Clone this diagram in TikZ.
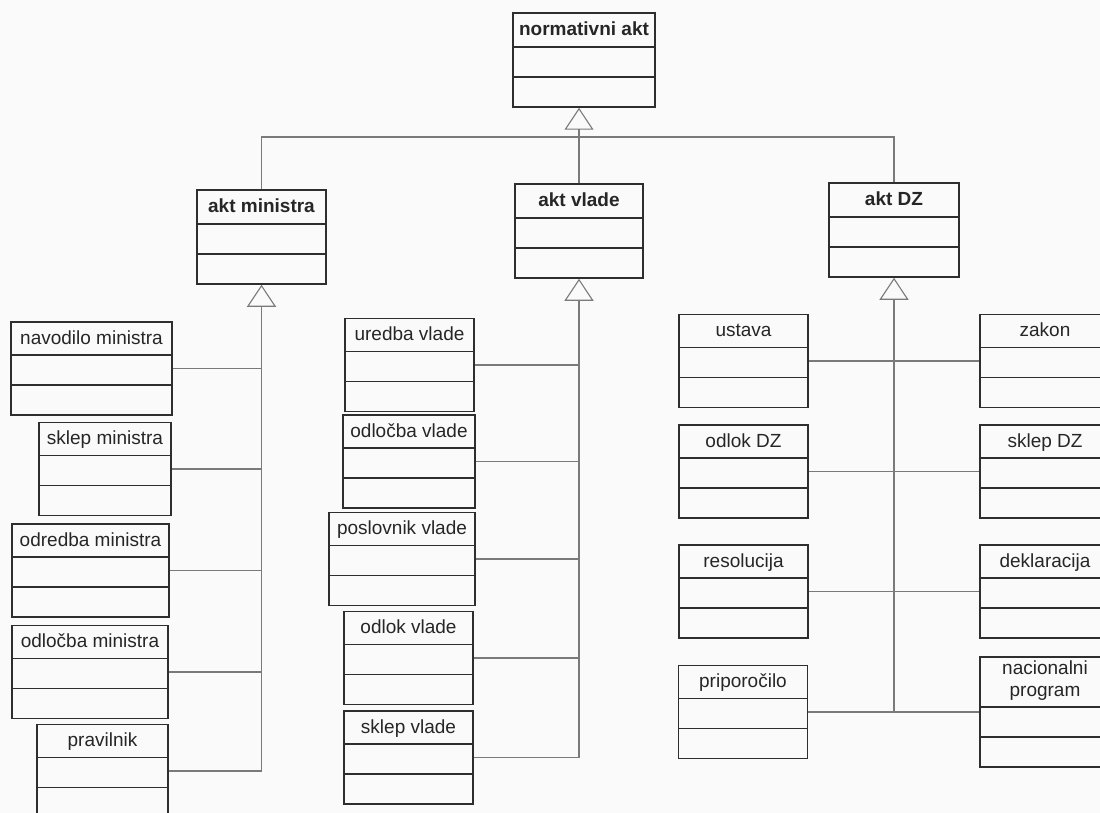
\documentclass[tikz,border=0pt]{standalone}
\usepackage{fontspec}
\setmainfont{Liberation Sans}
\usetikzlibrary{arrows.meta}

\definecolor{paper}{HTML}{FAFAFA}
\definecolor{boxc}{HTML}{2E2E2E}
\definecolor{linkc}{HTML}{7A7A7A}
\newcommand{\klassfont}{\fontsize{19}{22}\selectfont}

\tikzset{
  umlclass/.style={draw=boxc, line width=1.5pt, fill=paper, inner sep=0pt,
    minimum width=129pt, minimum height=93pt,
    path picture={
      \draw[boxc, line width=1.5pt] ([yshift=30pt]path picture bounding box.south west) -- ([yshift=30pt]path picture bounding box.south east);
      \draw[boxc, line width=1.5pt] ([yshift=60pt]path picture bounding box.south west) -- ([yshift=60pt]path picture bounding box.south east);
    }},
  ctitle/.style={anchor=base, yshift=-23pt, text=black!85, align=center, font=\klassfont},
  atitle/.style={ctitle, font=\klassfont\bfseries},
  link/.style={draw=linkc, line width=1.1pt},
  inherit/.style={link, -{Triangle[open, length=22pt, width=29pt]}}
}

\begin{document}
\begin{tikzpicture}[x=1pt, y=-1pt]
  \fill[paper] (0,0) rectangle (1100,813);
  \useasboundingbox (0,0) rectangle (1100,813);

  % abstract classes
  \node[umlclass, minimum width=142pt, minimum height=94pt, label={[atitle]north:normativni akt}] (normativni) at (584,60) {};
  \node[umlclass, minimum height=94pt, label={[atitle]north:akt ministra}] (ministra) at (261.5,237) {};
  \node[umlclass, minimum width=128pt, minimum height=94pt, label={[atitle]north:akt vlade}] (vlade) at (579,231) {};
  \node[umlclass, minimum width=130pt, minimum height=94pt, label={[atitle]north:akt DZ}] (dz) at (894,230) {};

  % akti ministra
  \node[umlclass, minimum width=161pt, label={[ctitle]north:navodilo ministra}] (navodilo) at (91.5,368.5) {};
  \node[umlclass, minimum width=132pt, label={[ctitle]north:sklep ministra}] (sklepmin) at (105,469) {};
  \node[umlclass, minimum width=157pt, label={[ctitle]north:odredba ministra}] (odredba) at (90.5,570.5) {};
  \node[umlclass, minimum width=156pt, label={[ctitle]north:odločba ministra}] (odlocbamin) at (90,672) {};
  \node[umlclass, minimum width=131pt, label={[ctitle]north:pravilnik}] (pravilnik) at (102.5,771) {};

  % akti vlade
  \node[umlclass, label={[ctitle]north:uredba vlade}] (uredba) at (409.5,365) {};
  \node[umlclass, minimum width=132pt, label={[ctitle]north:odločba vlade}] (odlocbavl) at (409,461.5) {};
  \node[umlclass, minimum width=146pt, label={[ctitle]north:poslovnik vlade}] (poslovnik) at (402,559) {};
  \node[umlclass, label={[ctitle]north:odlok vlade}] (odlokvl) at (408.5,658) {};
  \node[umlclass, label={[ctitle]north:sklep vlade}] (sklepvl) at (408.5,757.5) {};

  % akti DZ
  \node[umlclass, label={[ctitle]north:ustava}] (ustava) at (743.5,361) {};
  \node[umlclass, minimum width=130pt, label={[ctitle]north:zakon}] (zakon) at (1045,361) {};
  \node[umlclass, label={[ctitle]north:odlok DZ}] (odlokdz) at (743.5,471.5) {};
  \node[umlclass, minimum width=130pt, label={[ctitle]north:sklep DZ}] (sklepdz) at (1045,471.5) {};
  \node[umlclass, label={[ctitle]north:resolucija}] (resolucija) at (743.5,591.5) {};
  \node[umlclass, minimum width=130pt, label={[ctitle]north:deklaracija}] (deklaracija) at (1045,591.5) {};
  \node[umlclass, label={[ctitle]north:priporočilo}] (priporocilo) at (743,712) {};
  \node[umlclass, minimum width=130pt, minimum height=110pt, label={[ctitle, yshift=-17pt]north:nacionalni\\program}] (nacprog) at (1045,712) {};

  % dedovanje
  \coordinate (bar) at (0,137);
  \draw[link] (ministra.north) -- (ministra.north |- bar) -- (dz.north |- bar) -- (dz.north);
  \draw[inherit] (vlade.north) -- (vlade.north |- normativni.south);

  \foreach \k in {navodilo,sklepmin,odredba,odlocbamin,pravilnik}
    \draw[link] (\k.east) -- (\k.east -| ministra.south);
  \draw[inherit] (pravilnik.east -| ministra.south) -- (ministra.south);

  \foreach \k in {uredba,odlocbavl,poslovnik,odlokvl,sklepvl}
    \draw[link] (\k.east) -- (\k.east -| vlade.south);
  \draw[inherit] (sklepvl.east -| vlade.south) -- (vlade.south);

  \foreach \l/\r in {ustava/zakon,odlokdz/sklepdz,resolucija/deklaracija,priporocilo/nacprog}
    \draw[link] (\l.east) -- (\r.west);
  \draw[inherit] (priporocilo.east -| dz.south) -- (dz.south);
\end{tikzpicture}
\end{document}
